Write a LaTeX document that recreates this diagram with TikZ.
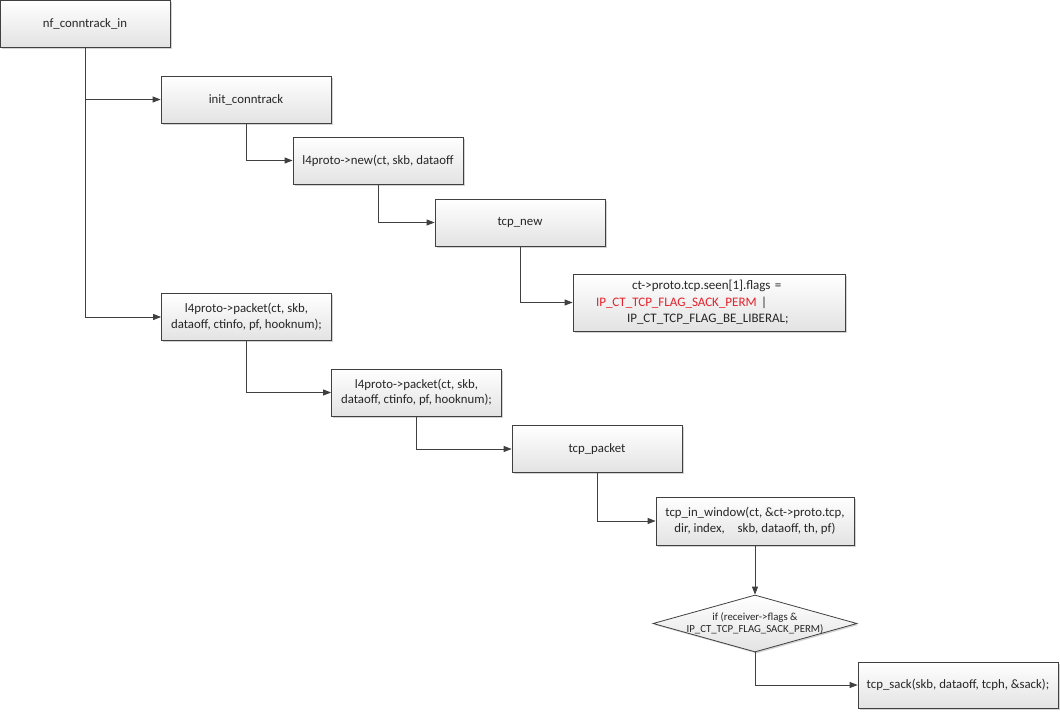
\documentclass[tikz,border=0pt]{standalone}
\usepackage{fontspec}
\setmainfont{Carlito}
\usetikzlibrary{arrows.meta,shapes.geometric,shadows}
\definecolor{linec}{HTML}{404040}
\definecolor{txtc}{HTML}{262626}
\definecolor{redc}{HTML}{E8202A}
\tikzset{
  box/.style={draw=linec, line width=0.8pt, top color=white, bottom color=gray!22,
    drop shadow={shadow xshift=1.5pt, shadow yshift=-1.5pt, opacity=0.35, fill=gray},
    text=txtc, font=\fontsize{12.8}{15.5}\selectfont, align=center, inner sep=2pt},
  dia/.style={draw=linec, line width=0.8pt, shape=diamond, top color=white, bottom color=gray!22,
    drop shadow={shadow xshift=1.5pt, shadow yshift=-1.5pt, opacity=0.35, fill=gray},
    inner sep=0pt, aspect=3.6},
  diatext/.style={text=txtc, font=\fontsize{10.8}{12.5}\selectfont, align=center, inner sep=0pt},
  arr/.style={draw=linec, line width=0.8pt, -{Triangle[length=8pt,width=6pt]}},
}
\begin{document}
\begin{tikzpicture}[x=1pt,y=-1pt]
\useasboundingbox (0,0) rectangle (1060,712);
\node[box, minimum width=170pt, minimum height=47pt] (nf) at (85,23.5) {nf\_conntrack\_in};
\node[box, minimum width=170pt, minimum height=47pt] (init) at (246,99.5) {init\_conntrack};
\node[box, minimum width=170pt, minimum height=47pt] (new) at (378,160.5) {l4proto->new(ct, skb, dataoff};
\node[box, minimum width=170pt, minimum height=47pt] (tnew) at (520,222.5) {tcp\_new};
\node[box, minimum width=272pt, minimum height=57pt, text width=250pt, align=left,
      font=\fontsize{13}{16.5}\selectfont] (flags) at (709,302.5)
  {\hspace*{48pt}ct->proto.tcp.seen[1].flags =\\
   \hspace*{12pt}\textcolor{redc}{IP\_CT\_TCP\_FLAG\_SACK\_PERM} |\\
   \hspace*{43pt}IP\_CT\_TCP\_FLAG\_BE\_LIBERAL;};
\node[box, minimum width=170pt, minimum height=47pt] (p1) at (246.5,317) {l4proto->packet(ct, skb,\\dataoff, ctinfo, pf, hooknum);};
\node[box, minimum width=170pt, minimum height=47pt] (p2) at (416.5,392.5) {l4proto->packet(ct, skb,\\dataoff, ctinfo, pf, hooknum);};
\node[box, minimum width=170pt, minimum height=47pt] (tpk) at (597,449) {tcp\_packet};
\node[box, minimum width=198pt, minimum height=48pt] (tiw) at (755,521) {tcp\_in\_window(ct, \&ct->proto.tcp,\\dir, index,\quad skb, dataoff, th, pf)};
\node[dia, minimum width=204pt, minimum height=57pt] (cond) at (755,623.5) {};
\node[diatext] (condt) at (cond.center) {if (receiver->flags \&\\IP\_CT\_TCP\_FLAG\_SACK\_PERM)};
\node[box, minimum width=200pt, minimum height=46pt] (sack) at (958,685) {tcp\_sack(skb, dataoff, tcph, \&sack);};
\draw[arr] (nf.south) |- (p1.west);
\draw[arr] (nf.south |- init.west) -- (init.west);
\draw[arr] (init.south) |- (new.west);
\draw[arr] (new.south) |- (tnew.west);
\draw[arr] (tnew.south) |- (flags.west);
\draw[arr] (p1.south) |- (p2.west);
\draw[arr] (p2.south) |- (tpk.west);
\draw[arr] (tpk.south) |- (tiw.west);
\draw[arr] (tiw.south) -- (cond.north);
\draw[arr] (cond.south) |- (sack.west);
\end{tikzpicture}
\end{document}
